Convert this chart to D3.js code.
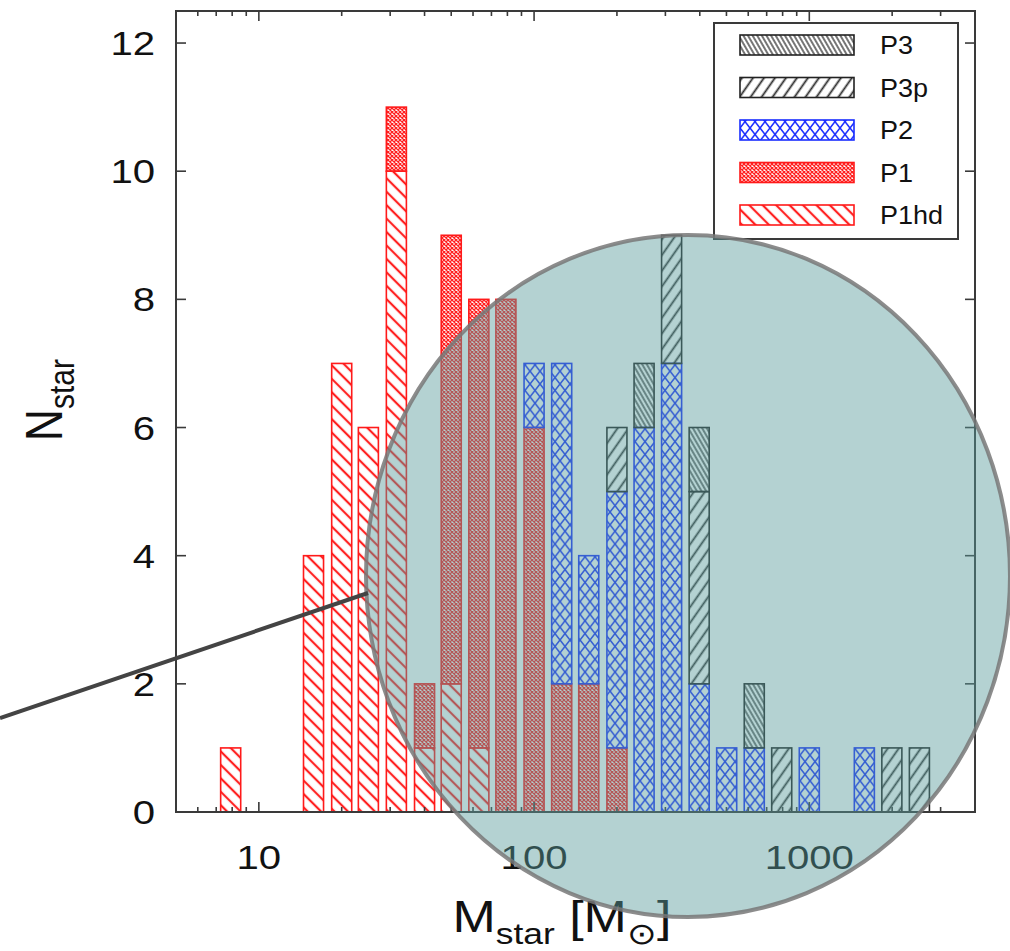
<!DOCTYPE html>
<html>
<head>
<meta charset="utf-8">
<script src="https://cdn.jsdelivr.net/npm/d3@7"></script>
<style>
  html, body { margin: 0; padding: 0; background: #fff; }
  svg { display: block; font-family: "Liberation Sans", Arial, Helvetica, sans-serif; }
</style>
</head>
<body>
<svg id="chart" width="1010" height="951"></svg>
<script>
// ---------- data ----------
const binCenters = [7.9, 15.8, 20, 25, 31.6, 40, 50, 63, 79, 100, 126, 158, 200, 251, 316, 398, 501, 631, 794, 1000, 1585, 1995, 2512];
const seriesP1hd = [1, 4, 7, 6, 10, 1, 2, 1, 0, 0, 0, 0, 0, 0, 0, 0, 0, 0, 0, 0, 0, 0, 0];
const seriesP1   = [0, 0, 0, 0, 1, 1, 7, 7, 8, 6, 2, 2, 1, 0, 0, 0, 0, 0, 0, 0, 0, 0, 0];
const seriesP2   = [0, 0, 0, 0, 0, 0, 0, 0, 0, 1, 5, 2, 4, 6, 7, 2, 1, 1, 0, 1, 1, 0, 0];
const seriesP3p  = [0, 0, 0, 0, 0, 0, 0, 0, 0, 0, 0, 0, 1, 0, 2, 3, 0, 0, 1, 0, 0, 1, 1];
const seriesP3   = [0, 0, 0, 0, 0, 0, 0, 0, 0, 0, 0, 0, 0, 1, 0, 1, 0, 1, 0, 0, 0, 0, 0];
const stackKeys = ["P1hd", "P1", "P2", "P3p", "P3"];
const legendOrder = ["P3", "P3p", "P2", "P1", "P1hd"];
const yTickValues = [0, 2, 4, 6, 8, 10, 12];
const xMajorTicks = [10, 100, 1000];
const xMinorTicks = [5, 6, 7, 8, 9, 20, 30, 40, 50, 60, 70, 80, 90, 200, 300, 400, 500, 600, 700, 800, 900, 2000, 3000, 4000];
const xDomain = [5, 4000];
const yDomain = [0, 12.5];

// ---------- layout ----------
const svg = d3.select("#chart");
const M = { left: 176, right: 975, top: 11, bottom: 812 };
const x = d3.scaleLog().domain(xDomain).range([M.left, M.right]);
const y = d3.scaleLinear().domain(yDomain).range([M.bottom, M.top]);
const halfBar = Math.pow(10, 0.0364);
const SX = 1.18; // horizontal stretch of text glyphs

const styles = {
  P1hd: { color: "#ff1a1a", pat: "pP1hd" },
  P1:   { color: "#ff1a1a", pat: "pP1" },
  P2:   { color: "#1a2eff", pat: "pP2" },
  P3p:  { color: "#222222", pat: "pP3p" },
  P3:   { color: "#222222", pat: "pP3" }
};

// ---------- patterns ----------
const defs = svg.append("defs");
function hatch(id, color, spacing, angle, width) {
  const p = defs.append("pattern").attr("id", id).attr("patternUnits", "userSpaceOnUse")
    .attr("width", spacing).attr("height", spacing)
    .attr("patternTransform", `rotate(${angle})`);
  p.append("rect").attr("width", spacing).attr("height", spacing).attr("fill", "#fff").attr("fill-opacity", 0);
  p.append("line").attr("x1", spacing / 2).attr("y1", 0).attr("x2", spacing / 2).attr("y2", spacing)
    .attr("stroke", color).attr("stroke-width", width);
}
hatch("pP1hd", "#ff2020", 9.5, -45, 2.2);
hatch("pP3p", "#2a2a2a", 9, 35, 1.8);
hatch("pP3", "#2a2a2a", 4, -30, 1.3);
{
  const p = defs.append("pattern").attr("id", "pP1").attr("patternUnits", "userSpaceOnUse")
    .attr("width", 4).attr("height", 4);
  p.append("path").attr("d", "M0,0 L4,4 M4,0 L0,4").attr("stroke", "#ff2020").attr("stroke-width", 1.3).attr("fill", "none");
}
{
  const p = defs.append("pattern").attr("id", "pP2").attr("patternUnits", "userSpaceOnUse")
    .attr("width", 10).attr("height", 12.8).attr("x", 0).attr("y", 0);
  p.append("path").attr("d", "M0,0 L10,12.8 M10,0 L0,12.8").attr("stroke", "#1a2eff").attr("stroke-width", 1.6).attr("fill", "none");
}

// ---------- bars ----------
const table = binCenters.map((c, i) => ({
  c, P1hd: seriesP1hd[i], P1: seriesP1[i], P2: seriesP2[i], P3p: seriesP3p[i], P3: seriesP3[i]
}));
const stacked = d3.stack().keys(stackKeys)(table);
const gBars = svg.append("g");
stacked.forEach(layer => {
  const st = styles[layer.key];
  gBars.selectAll(null).data(layer.filter(d => d[1] > d[0])).enter().append("rect")
    .attr("x", d => x(d.data.c / halfBar))
    .attr("width", d => x(d.data.c * halfBar) - x(d.data.c / halfBar))
    .attr("y", d => y(d[1]))
    .attr("height", d => y(d[0]) - y(d[1]))
    .attr("fill", `url(#${st.pat})`)
    .attr("stroke", st.color).attr("stroke-width", 1.6);
});

// ---------- frame & ticks ----------
svg.append("rect").attr("x", M.left).attr("y", M.top)
  .attr("width", M.right - M.left).attr("height", M.bottom - M.top)
  .attr("fill", "none").attr("stroke", "#3a3a3a").attr("stroke-width", 2);

const gTicks = svg.append("g").attr("stroke", "#3a3a3a").attr("stroke-width", 1.6);
yTickValues.forEach(v => {
  gTicks.append("line").attr("x1", M.left).attr("x2", M.left + 10).attr("y1", y(v)).attr("y2", y(v));
  gTicks.append("line").attr("x1", M.right).attr("x2", M.right - 10).attr("y1", y(v)).attr("y2", y(v));
});
xMajorTicks.forEach(v => {
  gTicks.append("line").attr("x1", x(v)).attr("x2", x(v)).attr("y1", M.bottom).attr("y2", M.bottom - 10);
  gTicks.append("line").attr("x1", x(v)).attr("x2", x(v)).attr("y1", M.top).attr("y2", M.top + 10);
});
xMinorTicks.forEach(v => {
  gTicks.append("line").attr("x1", x(v)).attr("x2", x(v)).attr("y1", M.bottom).attr("y2", M.bottom - 5);
  gTicks.append("line").attr("x1", x(v)).attr("x2", x(v)).attr("y1", M.top).attr("y2", M.top + 5);
});

const gLab = svg.append("g").attr("fill", "#111");
yTickValues.forEach(v => {
  gLab.append("text").attr("transform", `translate(155,${y(v) + 12}) scale(${SX},1)`)
    .attr("text-anchor", "end").attr("font-size", 34).text(v);
});
xMajorTicks.forEach(v => {
  gLab.append("text").attr("transform", `translate(${x(v)},${M.bottom + 57}) scale(${SX},1)`)
    .attr("text-anchor", "middle").attr("font-size", 34).text(v);
});

// axis titles
{
  const t = gLab.append("text").attr("transform", `translate(62,${400}) rotate(-90) scale(1,${SX})`)
    .attr("text-anchor", "middle").attr("font-size", 44);
  t.append("tspan").text("N");
  t.append("tspan").attr("font-size", 30).attr("dy", 10).text("star");
}
{
  const t = gLab.append("text").attr("transform", `translate(562,932) scale(${SX},1)`)
    .attr("text-anchor", "middle").attr("font-size", 44);
  t.append("tspan").text("M");
  t.append("tspan").attr("font-size", 30).attr("dy", 12).text("star");
  t.append("tspan").attr("dy", -12).text(" [M");
  t.append("tspan").attr("font-size", 30).attr("dy", 12).text("⊙");
  t.append("tspan").attr("dy", -12).text("]");
}

// ---------- legend ----------
const gLeg = svg.append("g");
gLeg.append("rect").attr("x", 714).attr("y", 23).attr("width", 244).attr("height", 216)
  .attr("fill", "#fff").attr("stroke", "#3a3a3a").attr("stroke-width", 2);
legendOrder.forEach((k, i) => {
  const st = styles[k];
  const yy = 35 + i * 42.5;
  gLeg.append("rect").attr("x", 740).attr("y", yy).attr("width", 114).attr("height", 20)
    .attr("fill", `url(#${st.pat})`).attr("stroke", st.color).attr("stroke-width", 1.6);
  gLeg.append("text").attr("transform", `translate(880,${yy + 19}) scale(1.08,1)`)
    .attr("font-size", 25).attr("fill", "#111").text(k);
});

// ---------- overlay ----------
svg.append("ellipse").attr("cx", 688).attr("cy", 576).attr("rx", 322).attr("ry", 341)
  .attr("fill", "rgb(88,155,155)").attr("fill-opacity", 0.45)
  .attr("stroke", "rgb(120,120,120)").attr("stroke-opacity", 0.85).attr("stroke-width", 4);
svg.append("line").attr("x1", 0).attr("y1", 718).attr("x2", 368).attr("y2", 593)
  .attr("stroke", "#444").attr("stroke-width", 4);
</script>
</body>
</html>
